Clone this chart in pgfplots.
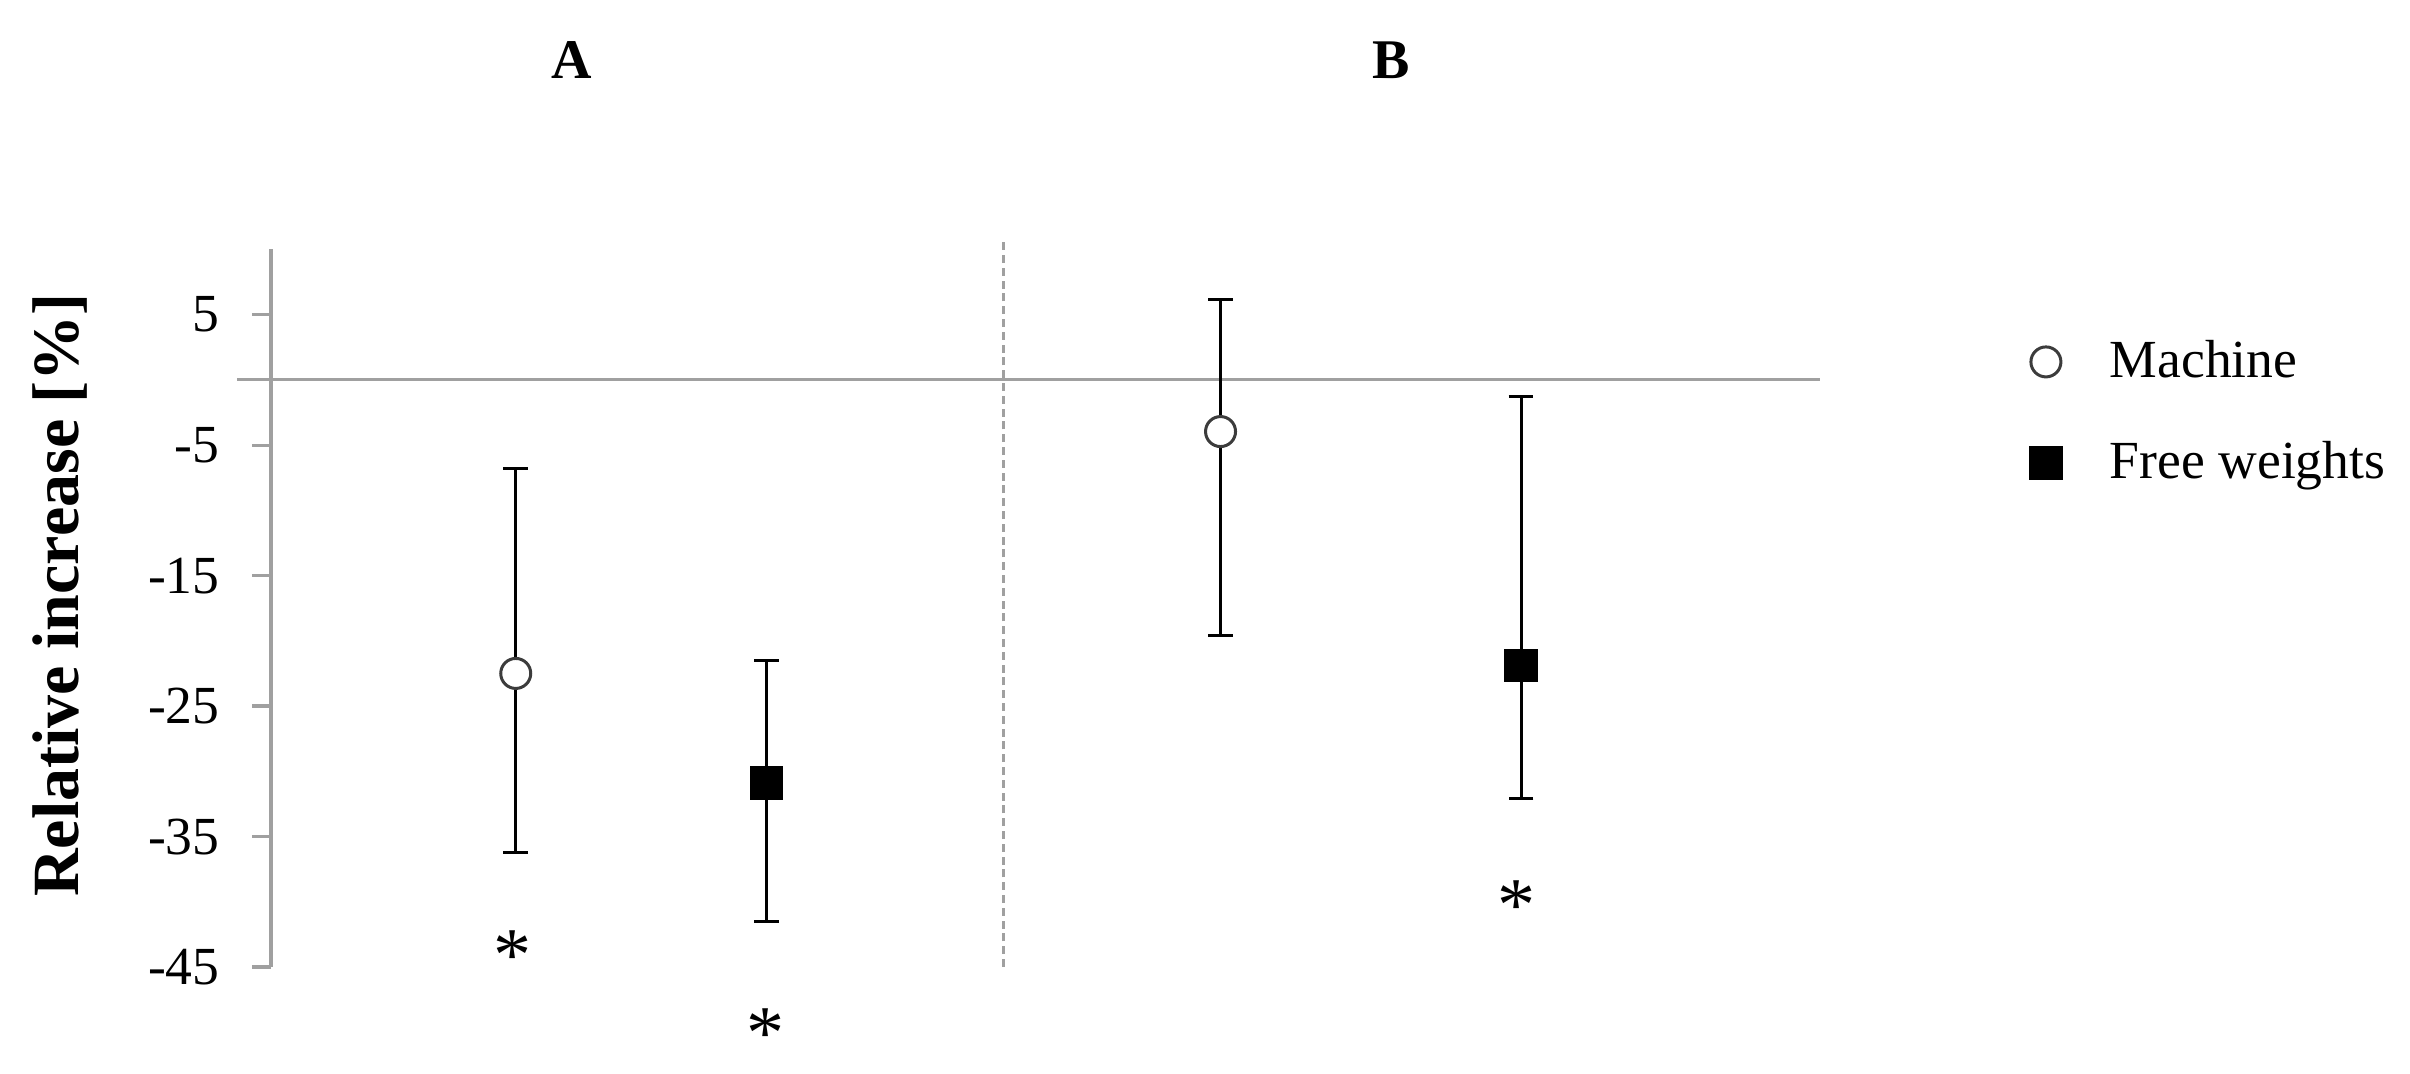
\documentclass[border=0pt]{standalone}
\usepackage{fontspec}
\setmainfont{Liberation Serif}
\usepackage{pgfplots}
\usepackage{pgfplotstable}
\pgfplotsset{compat=1.18}

\definecolor{axisgray}{RGB}{160,160,160}
\definecolor{markgray}{RGB}{60,60,60}

% x = position, y = mean, ep/em = upper/lower error
\pgfplotstableread{
x     y      ep     em
1.58  -22.5  15.7   13.7
6.13  -3.96  10.16  15.64
}\machine
\pgfplotstableread{
x     y      ep     em
3.20  -30.9  9.4    10.6
8.07  -21.9  20.6   10.2
}\freeweights

\begin{document}
\begin{tikzpicture}
\begin{axis}[
    at={(67.75pt,26.5pt)}, anchor=south west,
    scale only axis,
    width=387.25pt, height=179.4pt,
    xmin=0, xmax=10, ymin=-45, ymax=10,
    hide x axis,
    axis y line*=left,
    y axis line style={axisgray, line width=0.8pt, -},
    ytick={-45,-35,...,5},
    ytick style={axisgray, line width=0.8pt},
    tick align=outside,
    major tick length=4.75pt,
    /pgf/number format/assume math mode=true,
    yticklabel style={font=\fontsize{13.4}{16}\selectfont, black, xshift=-4.6pt},
    clip=false,
    legend style={at={(axis cs:11.35,-2.5)}, anchor=west, draw=none, fill=none,
        inner sep=0pt, row sep=14.5pt,
        nodes={inner sep=0pt},
        /tikz/every odd column/.append style={column sep=12pt},
        font=\fontsize{13.4}{16}\selectfont},
    legend cell align=left,
]

\draw[axisgray, line width=0.8pt] (axis cs:-0.22,0) -- (axis cs:10,0);
\draw[axisgray, line width=0.6pt, dash pattern=on 2pt off 1.2pt]
    (axis cs:4.73,-45) -- (axis cs:4.73,10.8);

\addplot[only marks, mark=*, mark size=3.75pt,
    mark options={fill=white, draw=markgray, line width=0.75pt},
    error bars/.cd, y dir=both, y explicit,
    error bar style={black, line width=0.75pt},
    error mark options={rotate=90, black, mark size=3.1pt, line width=0.75pt}]
    table[x=x, y=y, y error plus=ep, y error minus=em] {\machine};
\addlegendentry{Machine}

\addplot[only marks, mark=square*, mark size=4pt,
    mark options={fill=black, draw=black},
    error bars/.cd, y dir=both, y explicit,
    error bar style={black, line width=0.75pt},
    error mark options={rotate=90, black, mark size=3.1pt, line width=0.75pt}]
    table[x=x, y=y, y error plus=ep, y error minus=em] {\freeweights};
\addlegendentry{Free weights}

\node[font=\fontsize{19}{20}\selectfont, anchor=base, inner sep=0pt, yshift=-8.85pt] at (axis cs:1.556,-43.3) {*};
\node[font=\fontsize{19}{20}\selectfont, anchor=base, inner sep=0pt, yshift=-8.85pt] at (axis cs:3.19,-49.3) {*};
\node[font=\fontsize{19}{20}\selectfont, anchor=base, inner sep=0pt, yshift=-8.85pt] at (axis cs:8.04,-39.5) {*};
\end{axis}

\node[font=\fontsize{14}{16}\selectfont\bfseries] at (143pt,253.25pt) {A};
\node[font=\fontsize{14}{16}\selectfont\bfseries] at (347.75pt,253.25pt) {B};
\node[rotate=90, font=\fontsize{16.5}{18}\selectfont\bfseries] at (15pt,119.5pt) {Relative increase [\%]};

\pgfresetboundingbox
\path[use as bounding box] (0,0) rectangle (602.5pt,268.25pt);
\end{tikzpicture}
\end{document}
